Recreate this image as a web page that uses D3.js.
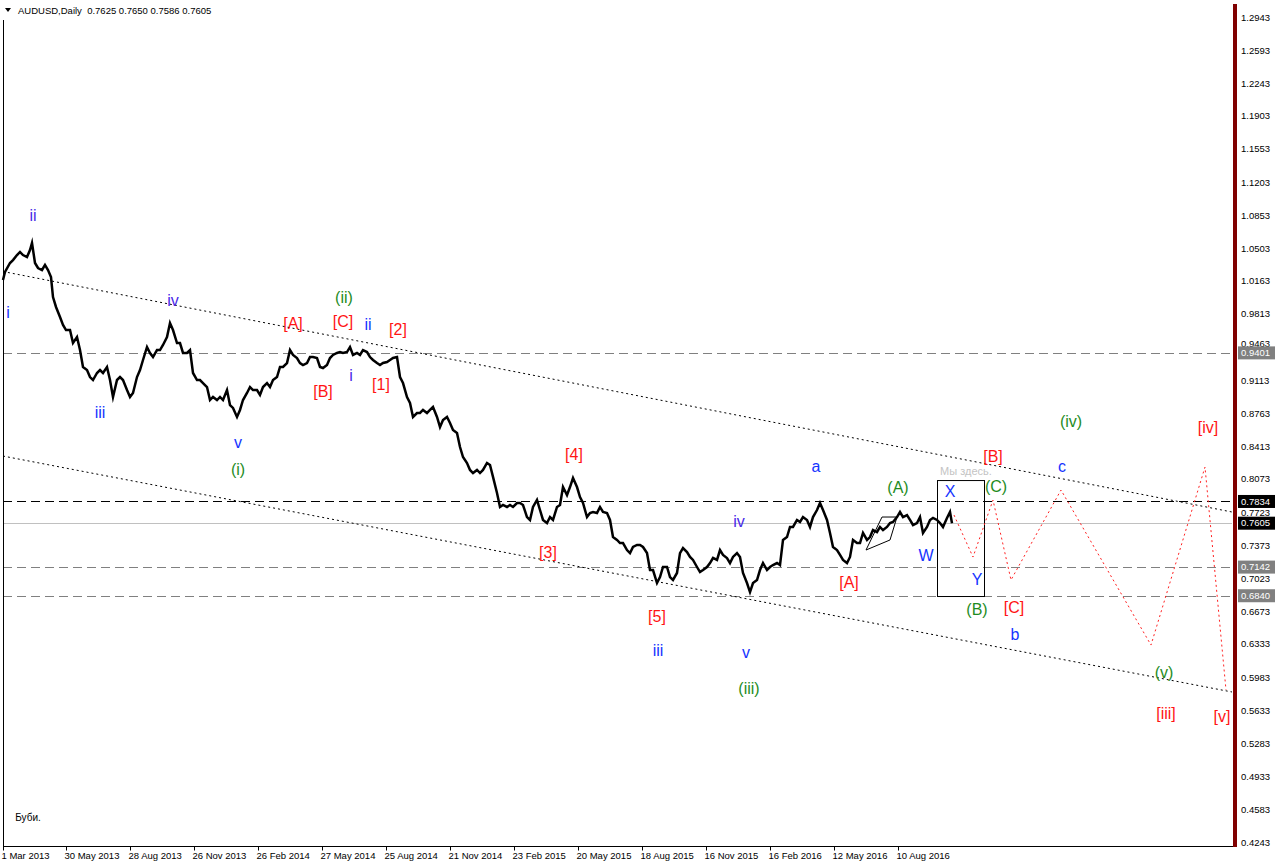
<!DOCTYPE html>
<html><head><meta charset="utf-8">
<script src="https://cdn.jsdelivr.net/npm/d3@7/dist/d3.min.js"></script>
<style>
html,body{margin:0;padding:0;background:#fff;}
svg{display:block;font-family:"Liberation Sans",Arial,sans-serif;}
</style></head>
<body>
<script>
// ---------- data ----------
const symbolTitle = "AUDUSD,Daily";
const ohlcText = "0.7625 0.7650 0.7586 0.7605";

// trading-day index of each date label on the time axis
const dateTickBars = [0, 63, 127, 191, 255, 319, 383, 447, 511, 575, 639, 703, 767, 831, 895];
const dateTickLabels = ["1 Mar 2013","30 May 2013","28 Aug 2013","26 Nov 2013","26 Feb 2014","27 May 2014",
  "25 Aug 2014","21 Nov 2014","23 Feb 2015","20 May 2015","18 Aug 2015","16 Nov 2015","16 Feb 2016","12 May 2016","10 Aug 2016"];

const priceTicks = [1.2943,1.2593,1.2243,1.1903,1.1553,1.1203,1.0853,1.0503,1.0163,0.9813,0.9463,0.9113,0.8763,
  0.8413,0.8073,0.7723,0.7373,0.7023,0.6673,0.6333,0.5983,0.5633,0.5283,0.4933,0.4583,0.4243];

// AUDUSD daily closes (sampled): bar index
const priceBars = [0,2,7,10,14,17,20,24,27,29,32,35,39,42,45,48,50,53,57,60,63,67,70,74,77,80,84,87,90,94,97,100,104,107,110,114,117,120,124,127,130,134,137,140,144,147,150,154,157,160,164,167,170,174,177,180,184,187,190,194,197,200,204,207,210,214,217,220,224,227,230,234,237,240,244,247,250,254,257,260,264,267,270,274,277,280,284,287,290,294,297,300,304,307,310,314,317,320,324,327,330,334,337,340,344,347,350,354,357,360,364,367,370,374,377,380,384,387,390,394,397,400,404,407,410,414,417,420,424,427,430,434,437,440,444,447,450,454,457,460,464,467,470,474,477,480,484,487,490,494,497,500,504,507,510,514,517,520,524,527,530,534,537,540,544,547,550,554,557,560,564,567,570,574,577,580,584,587,590,594,597,600,604,607,610,614,617,620,624,627,630,634,637,640,644,647,650,654,657,660,664,667,670,674,677,680,684,687,690,694,697,700,704,707,710,714,717,720,724,727,730,734,737,740,744,747,750,754,757,760,764,767,770,774,777,780,784,787,790,794,797,800,804,807,810,814,817,820,824,827,830,834,837,840,844,847,850,854,857,860,864,867,870,874,877,880,884,887,890,894,897,900,904,907,910,914,917,920,924,927,930,934,937,940,944,947,949];
// price at each bar
const priceValues = [1.0169,1.0254,1.0349,1.0380,1.0433,1.0465,1.0433,1.0412,1.0486,1.0560,1.0349,1.0296,1.0275,1.0328,1.0275,1.0201,0.9990,0.9885,0.9779,0.9695,0.9642,0.9642,0.9505,0.9568,0.9431,0.9252,0.9220,0.9146,0.9115,0.9189,0.9220,0.9189,0.9252,0.9115,0.8936,0.9115,0.9146,0.9115,0.9009,0.8936,0.8978,0.9146,0.9220,0.9326,0.9463,0.9400,0.9357,0.9431,0.9431,0.9484,0.9568,0.9716,0.9642,0.9505,0.9505,0.9400,0.9400,0.9431,0.9189,0.9115,0.9115,0.9083,0.9041,0.8904,0.8936,0.8904,0.8936,0.8904,0.9009,0.8851,0.8820,0.8725,0.8799,0.8904,0.8978,0.9041,0.9009,0.9009,0.8957,0.9041,0.9083,0.9041,0.9115,0.9146,0.9252,0.9252,0.9294,0.9431,0.9379,0.9347,0.9294,0.9273,0.9294,0.9357,0.9357,0.9347,0.9252,0.9241,0.9273,0.9347,0.9379,0.9400,0.9410,0.9400,0.9410,0.9463,0.9379,0.9400,0.9379,0.9431,0.9410,0.9357,0.9326,0.9294,0.9273,0.9294,0.9305,0.9326,0.9347,0.9357,0.9146,0.9083,0.8936,0.8873,0.8725,0.8767,0.8767,0.8799,0.8767,0.8799,0.8830,0.8725,0.8619,0.8693,0.8725,0.8662,0.8588,0.8556,0.8408,0.8303,0.8240,0.8166,0.8134,0.8166,0.8134,0.8166,0.8240,0.8219,0.8093,0.7923,0.7776,0.7797,0.7776,0.7797,0.7776,0.7818,0.7818,0.7797,0.7670,0.7639,0.7776,0.7850,0.7744,0.7639,0.7607,0.7670,0.7639,0.7776,0.7797,0.7986,0.7902,0.7986,0.8081,0.7986,0.7881,0.7818,0.7670,0.7713,0.7723,0.7713,0.7776,0.7723,0.7713,0.7639,0.7459,0.7428,0.7396,0.7396,0.7322,0.7290,0.7354,0.7375,0.7375,0.7354,0.7290,0.7111,0.7111,0.6974,0.7037,0.7143,0.7143,0.7037,0.7006,0.7080,0.7290,0.7343,0.7301,0.7249,0.7217,0.7143,0.7090,0.7111,0.7143,0.7185,0.7238,0.7217,0.7322,0.7270,0.7238,0.7185,0.7249,0.7290,0.7249,0.7080,0.6974,0.6879,0.6974,0.7006,0.7111,0.7185,0.7111,0.7143,0.7164,0.7185,0.7164,0.7428,0.7459,0.7565,0.7565,0.7639,0.7618,0.7670,0.7639,0.7565,0.7670,0.7744,0.7818,0.7744,0.7639,0.7502,0.7354,0.7322,0.7270,0.7217,0.7185,0.7249,0.7428,0.7396,0.7396,0.7502,0.7428,0.7459,0.7533,0.7512,0.7565,0.7533,0.7565,0.7607,0.7618,0.7670,0.7723,0.7670,0.7691,0.7639,0.7586,0.7607,0.7670,0.7502,0.7565,0.7639,0.7660,0.7639,0.7607,0.7565,0.7660,0.7723,0.7605];

// horizontal levels
const levelValues = [0.9401, 0.7834, 0.7605, 0.7142, 0.6840];
const levelKinds  = ["grey", "black", "current", "grey", "grey"];

// channel lines [bar, price]
const upperChannel = [[0, 1.0259], [1229, 0.7723]];
const lowerChannel = [[0, 0.8313], [1229, 0.5825]];

// projected path (red dotted)
const projBars   = [951, 970, 990, 1008, 1058, 1148, 1202, 1223];
const projPrices = [0.7691, 0.7248, 0.7849, 0.7006, 0.7955, 0.6320, 0.8197, 0.5846];

// box around current zone
const boxBars = [934, 981];
const boxPrices = [0.8060, 0.6837];

// small triangle object
const triBars = [863, 879, 894, 887];
const triPrices = [0.7322, 0.7670, 0.7670, 0.7428];

// wave labels
const labelTexts  = ["ii","i","iv","iii","v","(i)","(ii)","[A]","[C]","ii","[2]","[B]","i","[1]","[4]","[3]","[5]","iii","iv","v","(iii)","a","[A]","(A)","W","X","Y","(B)","(C)","[B]","[C]","b","c","(iv)","[iv]","(v)","[iii]","[v]"];
const labelBars   = [30,5,170,97,235,235,341,290,340,365,395,320,348,378,571,545,654,655,736,743,746,813,846,895,923,947,974,974,993,990,1011,1012,1059,1068,1205,1161,1163,1219];
const labelPrices = [1.0855,0.9832,0.9959,0.8777,0.8461,0.8176,0.9990,0.9716,0.9737,0.9705,0.9653,0.8999,0.9168,0.9073,0.8335,0.7301,0.6626,0.6268,0.7628,0.6247,0.5867,0.8208,0.6985,0.7987,0.7270,0.7944,0.7016,0.6700,0.7997,0.8313,0.6721,0.6436,0.8208,0.8683,0.8619,0.6036,0.5603,0.5572];
const labelColors = ["violet","blue","violet","blue","blue","green","green","red","red","blue","red","red","violet","red","red","red","red","blue","violet","blue","green","blue","red","green","blue","blue","blue","green","green","red","red","blue","blue","green","red","green","red","red"];

const noteText = "Мы здесь.";
const noteBar = 963, notePrice = 0.8155;
const signText = "Буби.";
const signBar = 25, signPrice = 0.4507;

// ---------- drawing ----------
const W = 1276, H = 866;
const palette = {blue:"#1434ff", violet:"#4a2be8", red:"#ff1414", green:"#1e8c1e"};
const svg = d3.select("body").append("svg").attr("width", W).attr("height", H);

const x = d3.scaleLinear().domain([0, 1229]).range([3, 1232]);
const y = d3.scaleLinear().domain([0.4243, 1.2943]).range([842, 17]);

// levels
const levelStyle = {grey:{c:"#808080",d:"9,5"}, black:{c:"#000",d:"9,5"}, current:{c:"#c0c0c0",d:null}};
levelValues.forEach((v,i)=>{
  const s = levelStyle[levelKinds[i]];
  svg.append("line").attr("x1",3).attr("x2",1232).attr("y1",Math.round(y(v))+0.5).attr("y2",Math.round(y(v))+0.5)
    .attr("stroke",s.c).attr("stroke-width",1).attr("stroke-dasharray",s.d);
});

// channels
const lineGen = d3.line().x(d=>x(d[0])).y(d=>y(d[1]));
[upperChannel, lowerChannel].forEach(c=>{
  svg.append("path").attr("d",lineGen(c)).attr("fill","none").attr("stroke","#000")
    .attr("stroke-width",1).attr("stroke-dasharray","2,3");
});

// price
const series = priceBars.map((b,i)=>[b, priceValues[i]]);
svg.append("path").attr("d", lineGen(series)).attr("fill","none").attr("stroke","#000")
  .attr("stroke-width",2.5).attr("stroke-linejoin","miter").attr("stroke-miterlimit",6);

// triangle object
svg.append("path").attr("d", lineGen(triBars.map((b,i)=>[b,triPrices[i]])) + "Z")
  .attr("fill","none").attr("stroke","#000").attr("stroke-width",1);

// box
svg.append("rect").attr("x",x(boxBars[0])+0.5).attr("y",y(boxPrices[0])+0.5)
  .attr("width",x(boxBars[1])-x(boxBars[0])).attr("height",y(boxPrices[1])-y(boxPrices[0]))
  .attr("fill","none").attr("stroke","#000").attr("stroke-width",1);

// projection
svg.append("path").attr("d", lineGen(projBars.map((b,i)=>[b,projPrices[i]])))
  .attr("fill","none").attr("stroke","#ff2020").attr("stroke-width",1).attr("stroke-dasharray","2,3");

// labels
labelTexts.forEach((t,i)=>{
  svg.append("text").attr("x",x(labelBars[i])).attr("y",y(labelPrices[i])).attr("dy","0.36em")
    .attr("text-anchor","middle").attr("font-size",16).attr("fill",palette[labelColors[i]]).text(t);
});
svg.append("text").attr("x",x(noteBar)).attr("y",y(notePrice)).attr("dy","0.36em").attr("text-anchor","middle")
  .attr("font-size",11).attr("fill","#c4c4c4").text(noteText);
svg.append("text").attr("x",x(signBar)).attr("y",y(signPrice)).attr("dy","0.36em").attr("text-anchor","middle")
  .attr("font-size",10).attr("fill","#000").text(signText);

// frame
svg.append("line").attr("x1",3.5).attr("x2",3.5).attr("y1",20).attr("y2",846).attr("stroke","#000");
svg.append("line").attr("x1",3).attr("x2",1236).attr("y1",846.5).attr("y2",846.5).attr("stroke","#000");
svg.append("rect").attr("x",1233).attr("y",4).attr("width",4).attr("height",843).attr("fill","#800000");

// header
svg.append("path").attr("d","M5,8 L11,8 L8,12 Z").attr("fill","#000");
svg.append("text").attr("x",18).attr("y",14).attr("font-size",9.5).attr("fill","#000")
  .attr("xml:space","preserve").text(symbolTitle + "  " + ohlcText);

// price axis (labels hidden behind a highlighted level box are dropped, as the box covers them)
const yAxis = d3.axisRight(y).tickValues(priceTicks).tickSize(0).tickPadding(4).tickFormat(d3.format(".4f"));
const ga = svg.append("g").attr("transform","translate(1237,0)").call(yAxis);
ga.select(".domain").remove();
ga.selectAll("text").attr("font-size",9.5).attr("font-family","Liberation Sans, Arial, sans-serif").attr("fill","#000");
ga.selectAll(".tick").filter(d => levelValues.some(v => Math.abs(y(v) - y(d)) < 9 && Math.abs(v-d) > 1e-6 && (v===0.9401)))
  .select("text").attr("dy","-0.05em");

// highlighted level labels
levelValues.forEach((v,i)=>{
  const bg = levelKinds[i]==="grey" ? "#808080" : "#000";
  const g = svg.append("g").attr("transform",`translate(1238,${y(v)})`);
  g.append("rect").attr("x",0).attr("y",-6.5).attr("width",37).attr("height",13).attr("fill",bg);
  g.append("text").attr("x",3).attr("dy","0.34em").attr("font-size",9.5).attr("fill","#fff").text(d3.format(".4f")(v));
});

// time axis
const xAxis = d3.axisBottom(x).tickValues(dateTickBars).tickSize(4).tickPadding(2)
  .tickFormat((d,i)=>dateTickLabels[i]);
const gx = svg.append("g").attr("transform","translate(0,846.5)").call(xAxis);
gx.select(".domain").remove();
gx.selectAll("text").attr("text-anchor","start").attr("dx",-2).attr("font-size",9.5)
  .attr("font-family","Liberation Sans, Arial, sans-serif").attr("fill","#000");
</script>
</body></html>
